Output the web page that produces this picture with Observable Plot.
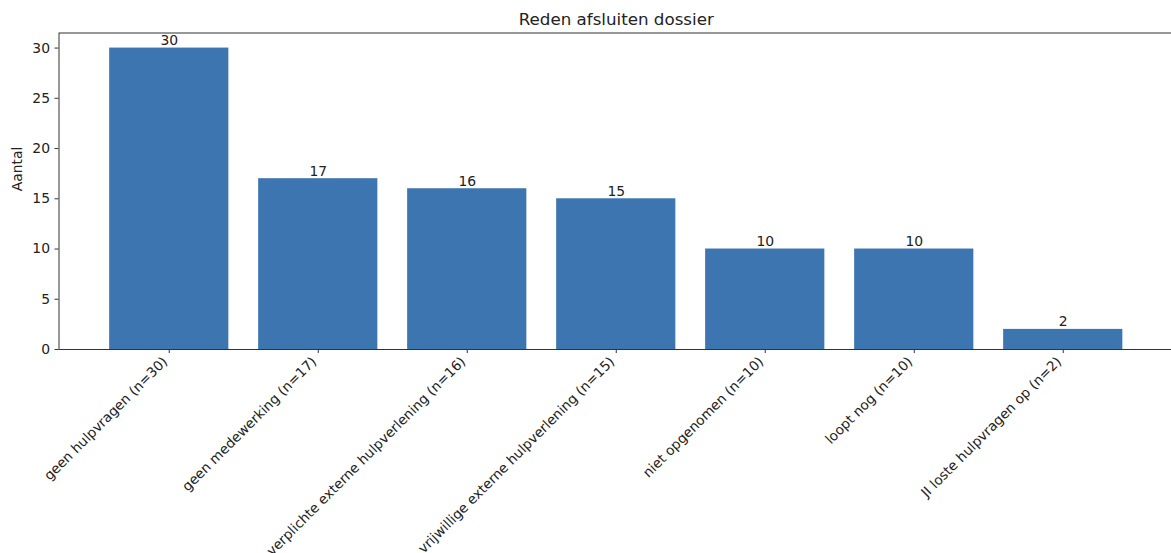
<!DOCTYPE html>
<html>
<head>
<meta charset="utf-8">
<script src="https://cdn.jsdelivr.net/npm/d3@7"></script>
<script src="https://cdn.jsdelivr.net/npm/@observablehq/plot@0.6"></script>
<style>
  html, body { margin: 0; padding: 0; background: #fff; overflow: hidden; }
  #chart { width: 1171px; height: 553px; overflow: hidden; }
</style>
</head>
<body>
<div id="chart"></div>
<script>
const title = "Reden afsluiten dossier";
const yLabel = "Aantal";
const categories = [
  "geen hulpvragen (n=30)",
  "geen medewerking (n=17)",
  "verplichte externe hulpverlening (n=16)",
  "vrijwillige externe hulpverlening (n=15)",
  "niet opgenomen (n=10)",
  "loopt nog (n=10)",
  "JI loste hulpvragen op (n=2)"
];
const values = [30, 17, 16, 15, 10, 10, 2];
const yTicks = [0, 5, 10, 15, 20, 25, 30];

const data = categories.map((c, i) => ({cat: c, val: values[i]}));

const chart = Plot.plot({
  width: 1171,
  height: 553,
  marginLeft: 58.5,
  marginRight: -2,
  marginTop: 32.5,
  marginBottom: 204,
  style: {fontFamily: "DejaVu Sans", fontSize: "13.9px", color: "#222", background: "#fff"},
  x: {domain: categories, paddingInner: 0.2, paddingOuter: 0.34, align: 0.5, round: false},
  y: {domain: [0, 31.5]},
  marks: [
    Plot.barY(data, {x: "cat", y: "val", fill: "#3c75b0"}),
    Plot.text(data, {x: "cat", y: "val", text: d => String(d.val), lineAnchor: "bottom", dy: -3, fill: "#222", fontSize: 13.9}),
    Plot.frame({stroke: "#333", strokeWidth: 1}),
    Plot.axisY({ticks: yTicks, tickSize: 4, tickPadding: 5, label: null, stroke: "#333", fontSize: 13.9}),
    Plot.axisX({tickSize: 4, tickFormat: () => "", label: null, stroke: "#333"}),
    Plot.text(categories, {x: d => d, frameAnchor: "bottom", rotate: -45, textAnchor: "end", lineAnchor: "bottom", dy: 13, dx: -1, fill: "#222", fontSize: 13.6}),
    Plot.text([yLabel], {frameAnchor: "left", dx: -41, rotate: -90, fill: "#222", fontSize: 13.9}),
    Plot.text([title], {frameAnchor: "top", dy: -8.5, lineAnchor: "bottom", fill: "#222", fontSize: 16.7})
  ]
});
document.getElementById("chart").appendChild(chart);
</script>
</body>
</html>
